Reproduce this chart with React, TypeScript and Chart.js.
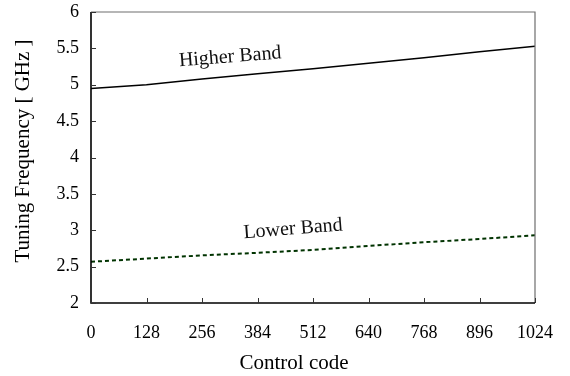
import React, { useEffect, useRef } from "react";
import { Chart, registerables } from "chart.js";

Chart.register(...registerables);

const codes = [0, 128, 256, 384, 512, 640, 768, 896, 1024];
const higherBand = [4.95, 5.0, 5.08, 5.15, 5.22, 5.295, 5.37, 5.455, 5.53];
const lowerBand = [2.567, 2.61, 2.655, 2.69, 2.73, 2.785, 2.835, 2.88, 2.93];
const xTicks = [0, 128, 256, 384, 512, 640, 768, 896, 1024];
const yTicks = [2, 2.5, 3, 3.5, 4, 4.5, 5, 5.5, 6];
const xTitle = "Control code";
const yTitle = "Tuning Frequency [ GHz ]";
const annotations = [
  { text: "Higher Band", x: 321, y: 5.38 },
  { text: "Lower Band", x: 466, y: 3.017 },
];

const FONT = "'Liberation Serif', 'Times New Roman', serif";

const decorPlugin = {
  id: "decor",
  afterDraw(chart: any) {
    const { ctx, chartArea, scales } = chart;
    const xs = scales.x;
    const ys = scales.y;
    ctx.save();
    ctx.strokeStyle = "#6e6e6e";
    ctx.lineWidth = 1.2;
    ctx.beginPath();
    ctx.moveTo(chartArea.left, chartArea.top);
    ctx.lineTo(chartArea.right, chartArea.top);
    ctx.lineTo(chartArea.right, chartArea.bottom);
    ctx.stroke();
    ctx.strokeStyle = "#000";
    ctx.lineWidth = 1.6;
    ctx.beginPath();
    ctx.moveTo(chartArea.left, chartArea.top);
    ctx.lineTo(chartArea.left, chartArea.bottom);
    ctx.lineTo(chartArea.right, chartArea.bottom);
    ctx.stroke();
    ctx.lineWidth = 1;
    ctx.strokeStyle = "#333";
    ctx.beginPath();
    yTicks.forEach((v) => {
      const py = Math.round(ys.getPixelForValue(v)) + 0.5;
      ctx.moveTo(chartArea.left, py);
      ctx.lineTo(chartArea.left + 5, py);
    });
    xTicks.forEach((v) => {
      const px = Math.round(xs.getPixelForValue(v)) + 0.5;
      ctx.moveTo(px, chartArea.bottom);
      ctx.lineTo(px, chartArea.bottom - 5);
    });
    ctx.stroke();
    ctx.fillStyle = "#111";
    ctx.font = `20px ${FONT}`;
    ctx.textAlign = "center";
    ctx.textBaseline = "middle";
    annotations.forEach((a) => {
      ctx.save();
      ctx.translate(xs.getPixelForValue(a.x), ys.getPixelForValue(a.y));
      ctx.rotate((-4.5 * Math.PI) / 180);
      ctx.fillText(a.text, 0, 0);
      ctx.restore();
    });
    ctx.font = `21px ${FONT}`;
    ctx.fillStyle = "#000";
    ctx.fillText(xTitle, 294, 363);
    ctx.save();
    ctx.translate(23, 151);
    ctx.rotate(-Math.PI / 2);
    ctx.fillText(yTitle, 0, 0);
    ctx.restore();
    ctx.restore();
  },
};

export default function App() {
  const ref = useRef<HTMLCanvasElement>(null);
  useEffect(() => {
    if (!ref.current) return;
    const chart = new Chart(ref.current, {
      type: "line",
      data: {
        datasets: [
          {
            label: "Higher Band",
            data: codes.map((c, i) => ({ x: c, y: higherBand[i] })),
            borderColor: "#000",
            borderWidth: 1.5,
            pointRadius: 0,
            fill: false,
          },
          {
            label: "Lower Band",
            data: codes.map((c, i) => ({ x: c, y: lowerBand[i] })),
            borderColor: "#003300",
            borderWidth: 2,
            borderDash: [4, 3],
            pointRadius: 0,
            fill: false,
          },
        ],
      },
      options: {
        responsive: false,
        animation: false,
        devicePixelRatio: 1,
        layout: { padding: { top: 12, right: 35, left: 0, bottom: 0 } },
        plugins: { legend: { display: false }, tooltip: { enabled: false } },
        scales: {
          x: {
            type: "linear",
            min: 0,
            max: 1024,
            afterBuildTicks: (s: any) => {
              s.ticks = xTicks.map((v) => ({ value: v }));
            },
            afterFit: (s: any) => {
              s.height = 73;
              s.paddingLeft = 0;
              s.paddingRight = 0;
              s.paddingTop = 0;
              s.paddingBottom = 0;
            },
            grid: { display: false, drawTicks: false },
            border: { display: false },
            ticks: {
              color: "#000",
              font: { family: FONT, size: 18 },
              padding: 19,
              maxRotation: 0,
              autoSkip: false,
              callback: (v: any) => String(v),
            },
          },
          y: {
            type: "linear",
            min: 2,
            max: 6,
            afterBuildTicks: (s: any) => {
              s.ticks = yTicks.map((v) => ({ value: v }));
            },
            afterFit: (s: any) => {
              s.width = 91;
              s.paddingLeft = 0;
              s.paddingRight = 0;
              s.paddingTop = 0;
              s.paddingBottom = 0;
            },
            grid: { display: false, drawTicks: false },
            border: { display: false },
            ticks: {
              color: "#000",
              font: { family: FONT, size: 18 },
              padding: 12,
              autoSkip: false,
              callback: (v: any) => String(v),
            },
          },
        },
      },
      plugins: [decorPlugin],
    });
    return () => chart.destroy();
  }, []);
  return (
    <div style={{ position: "fixed", left: 0, top: 0, width: 570, height: 376, background: "#fff" }}>
      <canvas ref={ref} width={570} height={376} style={{ width: 570, height: 376 }} />
    </div>
  );
}
